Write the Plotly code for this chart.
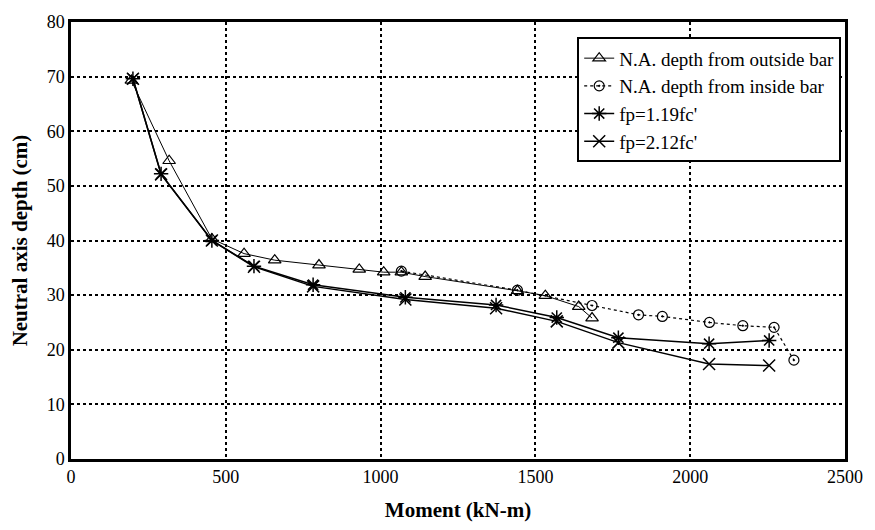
import plotly.graph_objects as go

# Data
out_m = [195, 317, 455, 559, 658, 801, 931, 1010, 1067, 1144, 1442, 1532, 1640, 1683]
out_d = [69.3, 54.6, 40.3, 37.6, 36.4, 35.5, 34.7, 34.2, 34.2, 33.4, 30.8, 29.9, 27.9, 25.8]

in_m = [1067, 1442, 1683, 1833, 1910, 2062, 2170, 2271, 2335]
in_d = [34.4, 30.9, 28.1, 26.4, 26.1, 25.0, 24.4, 24.1, 18.1]

fp119_m = [200, 291, 455, 591, 782, 1080, 1373, 1569, 1768, 2061, 2255]
fp119_d = [69.6, 52.2, 40.0, 35.3, 31.9, 29.6, 28.2, 25.9, 22.2, 21.1, 21.7]

fp212_m = [200, 291, 455, 591, 782, 1080, 1373, 1569, 1768, 2061, 2255]
fp212_d = [69.6, 52.1, 40.0, 35.2, 31.6, 29.2, 27.6, 25.2, 21.3, 17.4, 17.1]

x_ticks = [0, 500, 1000, 1500, 2000, 2500]
y_ticks = [0, 10, 20, 30, 40, 50, 60, 70, 80]

FONT = "Liberation Serif"

fig = go.Figure()
fig.add_trace(go.Scatter(
    x=out_m, y=out_d, mode="lines+markers", name="N.A. depth from outside bar",
    line=dict(color="black", width=1),
    marker=dict(symbol="triangle-up-open", size=11, color="black", line=dict(width=1.2)),
))
fig.add_trace(go.Scatter(
    x=in_m, y=in_d, mode="lines+markers", name="N.A. depth from inside bar",
    line=dict(color="black", width=1.2, dash="dot"),
    marker=dict(symbol="circle-open-dot", size=10, color="black", line=dict(width=1.2)),
))
fig.add_trace(go.Scatter(
    x=fp119_m, y=fp119_d, mode="lines+markers", name="fp=1.19fc'",
    line=dict(color="black", width=1.5),
    marker=dict(symbol="asterisk-open", size=12, color="black", line=dict(width=1.5)),
))
fig.add_trace(go.Scatter(
    x=fp212_m, y=fp212_d, mode="lines+markers", name="fp=2.12fc'",
    line=dict(color="black", width=1.5),
    marker=dict(symbol="x-thin-open", size=12, color="black", line=dict(width=1.5)),
))

axis_common = dict(
    showline=True, linecolor="black", linewidth=2.5, mirror=True,
    showgrid=True, gridcolor="black", gridwidth=1.5, griddash="dot",
    zeroline=False, ticks="", tickfont=dict(family=FONT, size=18, color="black"),
)

fig.update_layout(
    width=875, height=530,
    margin=dict(l=71, r=22, t=14, b=71),
    paper_bgcolor="white", plot_bgcolor="white",
    font=dict(family=FONT, color="black"),
    xaxis=dict(range=[0, 2500], tickvals=x_ticks, ticktext=[str(v) for v in x_ticks],
               title=dict(text="<b>Moment (kN-m)</b>", font=dict(family=FONT, size=21), standoff=16),
               **axis_common),
    yaxis=dict(range=[0, 80], tickvals=y_ticks, ticktext=[str(v) for v in y_ticks],
               title=dict(text="<b>Neutral axis depth (cm)</b>", font=dict(family=FONT, size=21), standoff=14),
               **axis_common),
    legend=dict(x=0.654, y=0.965, xanchor="left", yanchor="top",
                bgcolor="white", bordercolor="black", borderwidth=2,
                font=dict(family=FONT, size=19, color="black"),
                tracegroupgap=0),
    showlegend=True,
)

fig.write_html("out.html")
